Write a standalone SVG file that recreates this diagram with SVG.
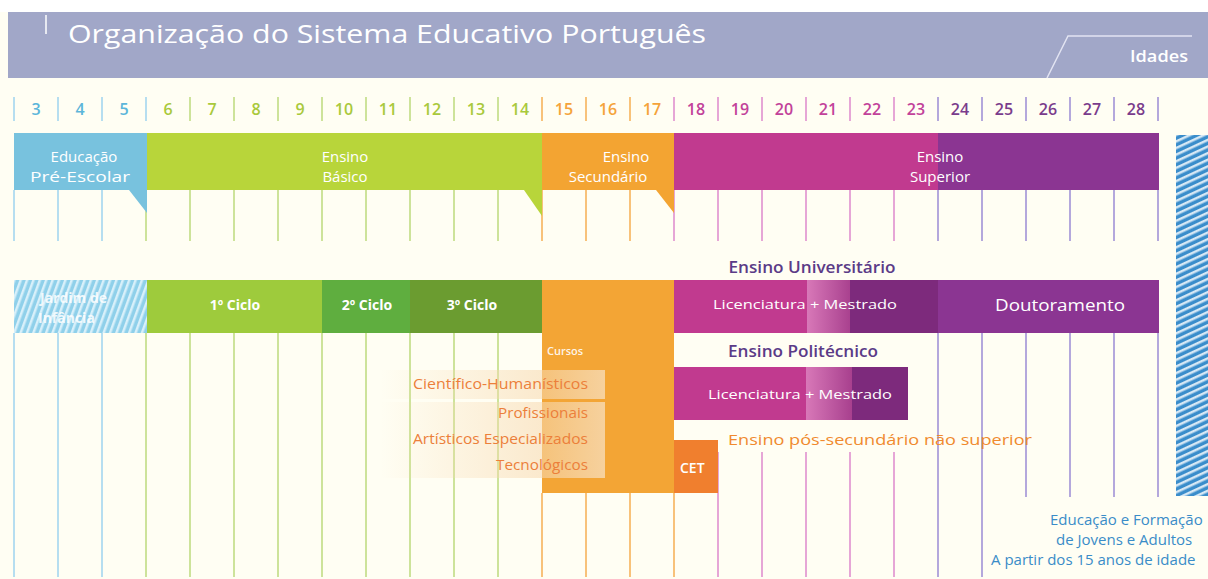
<svg xmlns="http://www.w3.org/2000/svg" width="1208" height="579" viewBox="0 0 1208 579">
<defs>
<style>
text{font-family:"Open Sans","Liberation Sans",sans-serif;}
.w{fill:#ffffff;}
.age{font-size:16px;font-weight:600;text-anchor:middle;}
.band{font-size:15px;fill:#ffffff;text-anchor:middle;}
.cyc{font-size:14px;font-weight:700;fill:#ffffff;text-anchor:middle;}
.lic{font-size:13px;fill:#ffffff;text-anchor:middle;}
.hd{font-size:16px;font-weight:600;fill:#5b3b87;text-anchor:middle;}
.cur{font-size:14px;fill:#ec7f3a;text-anchor:end;}
.ef{font-size:15px;fill:#3a8cc8;}
.gb{stroke:#b6def0;stroke-width:2;}
.gg{stroke:#cde39a;stroke-width:2;}
.go{stroke:#f8c27a;stroke-width:2;}
.gp{stroke:#e6a6d6;stroke-width:2;}
.gv{stroke:#b4a8dc;stroke-width:2;}
</style>
<pattern id="hatchJ" width="6" height="6" patternUnits="userSpaceOnUse" patternTransform="rotate(20)">
<rect width="6" height="6" fill="#8fd0ea"/>
<rect width="2.5" height="6" fill="#d8f0fa"/>
</pattern>
<pattern id="hatchR" width="6" height="6" patternUnits="userSpaceOnUse" patternTransform="rotate(-25)">
<rect width="6" height="6" fill="#3a8dcb"/>
<rect width="6" height="2.5" fill="#d6e8f5"/>
</pattern>
<linearGradient id="lightBand" x1="0" y1="0" x2="1" y2="0">
<stop offset="0" stop-color="#d878b8"/>
<stop offset="1" stop-color="#a8408e"/>
</linearGradient>
<linearGradient id="peach" x1="0" y1="0" x2="1" y2="0">
<stop offset="0" stop-color="#f7d9b0" stop-opacity="0"/>
<stop offset="0.7" stop-color="#f7d9b0" stop-opacity="0.55"/>
<stop offset="1" stop-color="#f7d9b0" stop-opacity="0.85"/>
</linearGradient>
</defs>

<rect x="0" y="0" width="1208" height="579" fill="#fffef3"/>
<rect x="0" y="0" width="1208" height="12" fill="#ffffff"/>

<g id="header">
<rect x="8" y="12" width="1200" height="66" fill="#a1a7c8"/>
<line x1="46" y1="15" x2="46" y2="34" stroke="#ffffff" stroke-width="1.5"/>
<text x="68" y="43" font-size="26" class="w" textLength="638" lengthAdjust="spacingAndGlyphs">Organização do Sistema Educativo Português</text>
<polyline points="1047,78 1068,36 1192,36" fill="none" stroke="#e2e4f2" stroke-width="1.5"/>
<text x="1130" y="62" font-size="16" font-weight="600" class="w" textLength="58" lengthAdjust="spacingAndGlyphs">Idades</text>
</g>

<g id="ages">
<line x1="14" y1="97" x2="14" y2="121" class="gb"/>
<line x1="58" y1="97" x2="58" y2="121" class="gb"/>
<line x1="102" y1="97" x2="102" y2="121" class="gb"/>
<line x1="146" y1="97" x2="146" y2="121" class="gb"/>
<line x1="190" y1="97" x2="190" y2="121" class="gg"/>
<line x1="234" y1="97" x2="234" y2="121" class="gg"/>
<line x1="278" y1="97" x2="278" y2="121" class="gg"/>
<line x1="322" y1="97" x2="322" y2="121" class="gg"/>
<line x1="366" y1="97" x2="366" y2="121" class="gg"/>
<line x1="410" y1="97" x2="410" y2="121" class="gg"/>
<line x1="454" y1="97" x2="454" y2="121" class="gg"/>
<line x1="498" y1="97" x2="498" y2="121" class="gg"/>
<line x1="542" y1="97" x2="542" y2="121" class="go"/>
<line x1="586" y1="97" x2="586" y2="121" class="go"/>
<line x1="630" y1="97" x2="630" y2="121" class="go"/>
<line x1="674" y1="97" x2="674" y2="121" class="gp"/>
<line x1="718" y1="97" x2="718" y2="121" class="gp"/>
<line x1="762" y1="97" x2="762" y2="121" class="gp"/>
<line x1="806" y1="97" x2="806" y2="121" class="gp"/>
<line x1="850" y1="97" x2="850" y2="121" class="gp"/>
<line x1="894" y1="97" x2="894" y2="121" class="gp"/>
<line x1="938" y1="97" x2="938" y2="121" class="gv"/>
<line x1="982" y1="97" x2="982" y2="121" class="gv"/>
<line x1="1026" y1="97" x2="1026" y2="121" class="gv"/>
<line x1="1070" y1="97" x2="1070" y2="121" class="gv"/>
<line x1="1114" y1="97" x2="1114" y2="121" class="gv"/>
<line x1="1158" y1="97" x2="1158" y2="121" class="gv"/>
<text x="36" y="115" class="age" fill="#5cb6da">3</text>
<text x="80" y="115" class="age" fill="#5cb6da">4</text>
<text x="124" y="115" class="age" fill="#5cb6da">5</text>
<text x="168" y="115" class="age" fill="#a9c93c">6</text>
<text x="212" y="115" class="age" fill="#a9c93c">7</text>
<text x="256" y="115" class="age" fill="#a9c93c">8</text>
<text x="300" y="115" class="age" fill="#a9c93c">9</text>
<text x="344" y="115" class="age" fill="#a9c93c">10</text>
<text x="388" y="115" class="age" fill="#a9c93c">11</text>
<text x="432" y="115" class="age" fill="#a9c93c">12</text>
<text x="476" y="115" class="age" fill="#a9c93c">13</text>
<text x="520" y="115" class="age" fill="#a9c93c">14</text>
<text x="564" y="115" class="age" fill="#f5a33a">15</text>
<text x="608" y="115" class="age" fill="#f5a33a">16</text>
<text x="652" y="115" class="age" fill="#f5a33a">17</text>
<text x="696" y="115" class="age" fill="#c2429a">18</text>
<text x="740" y="115" class="age" fill="#c2429a">19</text>
<text x="784" y="115" class="age" fill="#c2429a">20</text>
<text x="828" y="115" class="age" fill="#c2429a">21</text>
<text x="872" y="115" class="age" fill="#c2429a">22</text>
<text x="916" y="115" class="age" fill="#c2429a">23</text>
<text x="960" y="115" class="age" fill="#7a3c8c">24</text>
<text x="1004" y="115" class="age" fill="#7a3c8c">25</text>
<text x="1048" y="115" class="age" fill="#7a3c8c">26</text>
<text x="1092" y="115" class="age" fill="#7a3c8c">27</text>
<text x="1136" y="115" class="age" fill="#7a3c8c">28</text>
</g>

<g id="grid">
<line x1="14" y1="190" x2="14" y2="241" class="gb"/>
<line x1="58" y1="190" x2="58" y2="241" class="gb"/>
<line x1="102" y1="190" x2="102" y2="241" class="gb"/>
<line x1="146" y1="190" x2="146" y2="241" class="gg"/>
<line x1="190" y1="190" x2="190" y2="241" class="gg"/>
<line x1="234" y1="190" x2="234" y2="241" class="gg"/>
<line x1="278" y1="190" x2="278" y2="241" class="gg"/>
<line x1="322" y1="190" x2="322" y2="241" class="gg"/>
<line x1="366" y1="190" x2="366" y2="241" class="gg"/>
<line x1="410" y1="190" x2="410" y2="241" class="gg"/>
<line x1="454" y1="190" x2="454" y2="241" class="gg"/>
<line x1="498" y1="190" x2="498" y2="241" class="gg"/>
<line x1="542" y1="190" x2="542" y2="241" class="go"/>
<line x1="586" y1="190" x2="586" y2="241" class="go"/>
<line x1="630" y1="190" x2="630" y2="241" class="go"/>
<line x1="674" y1="190" x2="674" y2="241" class="gp"/>
<line x1="718" y1="190" x2="718" y2="241" class="gp"/>
<line x1="762" y1="190" x2="762" y2="241" class="gp"/>
<line x1="806" y1="190" x2="806" y2="241" class="gp"/>
<line x1="850" y1="190" x2="850" y2="241" class="gp"/>
<line x1="894" y1="190" x2="894" y2="241" class="gp"/>
<line x1="938" y1="190" x2="938" y2="241" class="gv"/>
<line x1="982" y1="190" x2="982" y2="241" class="gv"/>
<line x1="1026" y1="190" x2="1026" y2="241" class="gv"/>
<line x1="1070" y1="190" x2="1070" y2="241" class="gv"/>
<line x1="1114" y1="190" x2="1114" y2="241" class="gv"/>
<line x1="1158" y1="190" x2="1158" y2="241" class="gv"/>

<line x1="14" y1="333" x2="14" y2="577" class="gb"/>
<line x1="58" y1="333" x2="58" y2="577" class="gb"/>
<line x1="102" y1="333" x2="102" y2="577" class="gb"/>
<line x1="146" y1="333" x2="146" y2="577" class="gg"/>
<line x1="190" y1="333" x2="190" y2="577" class="gg"/>
<line x1="234" y1="333" x2="234" y2="577" class="gg"/>
<line x1="278" y1="333" x2="278" y2="577" class="gg"/>
<line x1="322" y1="333" x2="322" y2="577" class="gg"/>
<line x1="366" y1="333" x2="366" y2="577" class="gg"/>
<line x1="410" y1="333" x2="410" y2="577" class="gg"/>
<line x1="454" y1="333" x2="454" y2="577" class="gg"/>
<line x1="498" y1="333" x2="498" y2="577" class="gg"/>
<line x1="542" y1="493" x2="542" y2="577" class="go"/>
<line x1="586" y1="493" x2="586" y2="577" class="go"/>
<line x1="630" y1="493" x2="630" y2="577" class="go"/>
<line x1="674" y1="493" x2="674" y2="577" class="go"/>
<line x1="718" y1="452" x2="718" y2="577" class="gp"/>
<line x1="762" y1="452" x2="762" y2="577" class="gp"/>
<line x1="806" y1="452" x2="806" y2="577" class="gp"/>
<line x1="850" y1="452" x2="850" y2="577" class="gp"/>
<line x1="894" y1="452" x2="894" y2="577" class="gp"/>
<line x1="938" y1="333" x2="938" y2="577" class="gv"/>
<line x1="982" y1="333" x2="982" y2="577" class="gv"/>
<line x1="1026" y1="333" x2="1026" y2="497" class="gv"/>
<line x1="1070" y1="333" x2="1070" y2="497" class="gv"/>
<line x1="1114" y1="333" x2="1114" y2="497" class="gv"/>
<line x1="1158" y1="333" x2="1158" y2="497" class="gv"/>
</g>

<g id="pre-escolar">
<rect x="14" y="133" width="133" height="57" fill="#78c2de"/>
<polygon points="129,190 147,190 147,213" fill="#78c2de"/>
<text x="84" y="162" class="band">Educação</text>
<text x="80" y="182" class="band" textLength="100" lengthAdjust="spacingAndGlyphs">Pré-Escolar</text>
</g>
<g id="basico">
<rect x="147" y="133" width="395" height="57" fill="#b8d53a"/>
<polygon points="524,190 542,190 542,216" fill="#b8d53a"/>
<text x="345" y="162" class="band">Ensino</text>
<text x="345" y="182" class="band">Básico</text>
</g>
<g id="secundario">
<rect x="542" y="133" width="132" height="57" fill="#f3a432"/>
<polygon points="656,190 674,190 674,213" fill="#f3a432"/>
<text x="626" y="162" class="band">Ensino</text>
<text x="608" y="182" class="band">Secundário</text>
</g>
<g id="superior">
<rect x="674" y="133" width="264" height="57" fill="#c13a8f"/>
<rect x="938" y="133" width="221" height="57" fill="#8b3592"/>
<text x="940" y="162" class="band">Ensino</text>
<text x="940" y="182" class="band">Superior</text>
</g>

<g id="efja-bar">
<rect x="1176" y="135" width="32" height="361" fill="url(#hatchR)"/>
</g>

<g id="jardim">
<rect x="14" y="280" width="133" height="53" fill="url(#hatchJ)"/>
<text x="40" y="303" font-size="14" font-weight="700" fill="#ffffff" fill-opacity="0.85">Jardim de</text>
<text x="38" y="323" font-size="14" font-weight="700" fill="#ffffff" fill-opacity="0.85">Infância</text>
</g>
<g id="ciclo1">
<rect x="147" y="280" width="175" height="53" fill="#9ecb3c"/>
<text x="235" y="310" class="cyc">1º Ciclo</text>
</g>
<g id="ciclo2">
<rect x="322" y="280" width="88" height="53" fill="#5fae3f"/>
<text x="367" y="310" class="cyc">2º Ciclo</text>
</g>
<g id="ciclo3">
<rect x="410" y="280" width="132" height="53" fill="#6b9c30"/>
<text x="472" y="310" class="cyc">3º Ciclo</text>
</g>

<g id="cursos">
<rect x="542" y="280" width="132" height="213" fill="#f3a535"/>
<text x="547" y="355" font-size="11" font-weight="600" fill="#ffffff" fill-opacity="0.9">Cursos</text>
<rect x="380" y="370" width="225" height="29" fill="url(#peach)"/>
<rect x="380" y="402" width="225" height="76" fill="url(#peach)"/>
<text x="588" y="389" class="cur" textLength="175" lengthAdjust="spacingAndGlyphs">Científico-Humanísticos</text>
<text x="588" y="418" class="cur" textLength="90" lengthAdjust="spacingAndGlyphs">Profissionais</text>
<text x="588" y="444" class="cur" textLength="175" lengthAdjust="spacingAndGlyphs">Artísticos Especializados</text>
<text x="588" y="470" class="cur" textLength="92" lengthAdjust="spacingAndGlyphs">Tecnológicos</text>
</g>

<g id="universitario">
<text x="812" y="273" class="hd" textLength="167" lengthAdjust="spacingAndGlyphs">Ensino Universitário</text>
<rect x="674" y="280" width="134" height="53" fill="#c13a8f"/>
<rect x="807" y="280" width="44" height="53" fill="url(#lightBand)"/>
<rect x="850" y="280" width="88" height="53" fill="#7d2a7c"/>
<text x="805" y="309" class="lic" textLength="184" lengthAdjust="spacingAndGlyphs">Licenciatura + Mestrado</text>
</g>
<g id="doutoramento">
<rect x="938" y="280" width="221" height="53" fill="#8b3592"/>
<text x="1060" y="311" font-size="16" fill="#ffffff" text-anchor="middle" textLength="130" lengthAdjust="spacingAndGlyphs">Doutoramento</text>
</g>

<g id="politecnico">
<text x="803" y="357" class="hd" textLength="150" lengthAdjust="spacingAndGlyphs">Ensino Politécnico</text>
<rect x="674" y="367" width="133" height="53" fill="#c13a8f"/>
<rect x="806" y="367" width="46" height="53" fill="url(#lightBand)"/>
<rect x="852" y="367" width="56" height="53" fill="#7d2a7c"/>
<text x="800" y="399" class="lic" textLength="184" lengthAdjust="spacingAndGlyphs">Licenciatura + Mestrado</text>
</g>

<g id="pos-secundario">
<text x="728" y="445" font-size="15" fill="#f08a2e" textLength="304" lengthAdjust="spacingAndGlyphs">Ensino pós-secundário não superior</text>
<rect x="674" y="440" width="44" height="53" fill="#f07f2e"/>
<text x="680" y="473" font-size="14" font-weight="600" fill="#ffffff">CET</text>
</g>

<g id="efja">
<text x="1050" y="525" class="ef">Educação e Formação</text>
<text x="1056" y="545" class="ef">de Jovens e Adultos</text>
<text x="991" y="565" class="ef">A partir dos 15 anos de idade</text>
</g>
</svg>
